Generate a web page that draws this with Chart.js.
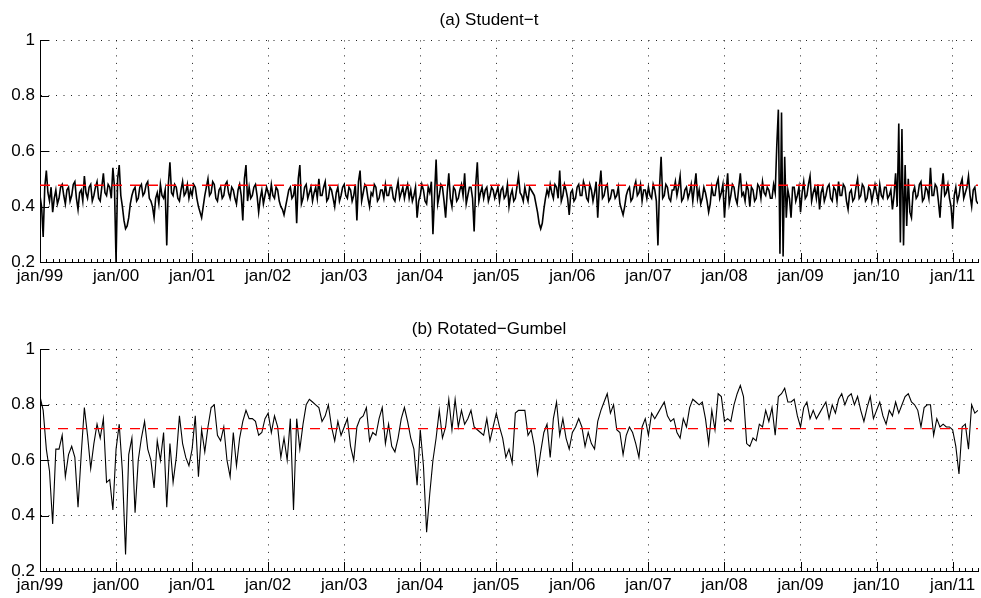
<!DOCTYPE html>
<html>
<head>
<meta charset="utf-8">
<script src="https://cdn.jsdelivr.net/npm/chart.js@4.4.1/dist/chart.umd.min.js"></script>
<style>
  body { margin: 0; background: #fff; }
  .panel { position: absolute; left: 0; width: 981px; }
  #panelA { top: 0; height: 290px; }
  #panelB { top: 309px; height: 289px; }
</style>
</head>
<body>
<div class="panel" id="panelA"><canvas id="chartA" width="981" height="290"></canvas></div>
<div class="panel" id="panelB"><canvas id="chartB" width="981" height="289"></canvas></div>
<script>
// both series start jan/99; Student-t is sampled twice as often as Rotated-Gumbel
const startYear = 1999;
const tPerYear = 48;
const gPerYear = 24;

const yearTicks = [1999, 2000, 2001, 2002, 2003, 2004, 2005, 2006, 2007, 2008, 2009, 2010, 2011];
const yearLabels = ['jan/99', 'jan/00', 'jan/01', 'jan/02', 'jan/03', 'jan/04', 'jan/05',
                    'jan/06', 'jan/07', 'jan/08', 'jan/09', 'jan/10', 'jan/11'];
const yTicks = [0.2, 0.4, 0.6, 0.8, 1];

const studentT = [
  // 1999
  0.44,0.40,0.29,0.47,0.53,0.45,0.42,0.47,0.38,0.43,0.46,0.41,0.43,0.47,0.48,0.44,0.41,0.46,0.47,0.42,0.44,0.48,0.49,0.43,
  0.39,0.45,0.46,0.42,0.51,0.45,0.43,0.47,0.48,0.42,0.44,0.47,0.49,0.43,0.42,0.47,0.52,0.45,0.44,0.48,0.47,0.43,0.54,0.47,
  // 2000
  0.20,0.50,0.55,0.44,0.40,0.35,0.32,0.33,0.36,0.41,0.44,0.46,0.47,0.42,0.43,0.47,0.48,0.44,0.45,0.48,0.49,0.43,0.42,0.40,
  0.36,0.43,0.45,0.41,0.48,0.44,0.43,0.46,0.26,0.48,0.56,0.45,0.44,0.48,0.47,0.43,0.42,0.46,0.49,0.44,0.45,0.48,0.43,0.46,
  // 2001
  0.44,0.48,0.47,0.43,0.40,0.38,0.36,0.40,0.44,0.47,0.50,0.44,0.45,0.49,0.48,0.43,0.42,0.46,0.47,0.43,0.44,0.48,0.49,0.45,
  0.43,0.47,0.46,0.43,0.41,0.46,0.48,0.44,0.35,0.50,0.55,0.42,0.47,0.43,0.44,0.47,0.48,0.44,0.38,0.43,0.46,0.41,0.44,0.47,
  // 2002
  0.45,0.43,0.48,0.44,0.43,0.47,0.46,0.42,0.40,0.39,0.37,0.40,0.43,0.46,0.47,0.43,0.44,0.48,0.34,0.50,0.55,0.41,0.43,0.47,
  0.48,0.43,0.45,0.47,0.42,0.45,0.47,0.43,0.50,0.44,0.44,0.47,0.49,0.42,0.43,0.47,0.46,0.43,0.40,0.45,0.47,0.42,0.44,0.47,
  // 2003
  0.48,0.44,0.43,0.47,0.46,0.42,0.44,0.48,0.35,0.49,0.53,0.42,0.45,0.48,0.47,0.43,0.40,0.45,0.44,0.48,0.47,0.42,0.43,0.46,
  0.46,0.43,0.48,0.44,0.44,0.47,0.47,0.43,0.42,0.46,0.49,0.43,0.45,0.47,0.43,0.46,0.48,0.43,0.46,0.42,0.44,0.47,0.36,0.42,
  // 2004
  0.44,0.48,0.46,0.42,0.41,0.47,0.45,0.49,0.30,0.44,0.57,0.41,0.44,0.48,0.47,0.42,0.36,0.45,0.52,0.43,0.40,0.47,0.46,0.42,
  0.43,0.46,0.48,0.44,0.52,0.41,0.44,0.47,0.47,0.43,0.31,0.48,0.56,0.42,0.45,0.47,0.43,0.46,0.47,0.42,0.44,0.47,0.46,0.43,
  // 2005
  0.45,0.47,0.42,0.46,0.47,0.43,0.44,0.48,0.40,0.44,0.46,0.42,0.43,0.47,0.51,0.45,0.44,0.42,0.47,0.44,0.42,0.47,0.46,0.45,
  0.44,0.41,0.38,0.34,0.32,0.34,0.39,0.43,0.46,0.44,0.48,0.45,0.43,0.48,0.47,0.43,0.53,0.42,0.44,0.48,0.46,0.43,0.37,0.45,
  // 2006
  0.46,0.42,0.43,0.47,0.48,0.44,0.44,0.49,0.47,0.43,0.42,0.48,0.46,0.42,0.45,0.49,0.36,0.47,0.53,0.43,0.44,0.47,0.48,0.42,
  0.43,0.46,0.46,0.43,0.44,0.47,0.41,0.39,0.37,0.40,0.44,0.46,0.47,0.42,0.43,0.47,0.49,0.44,0.45,0.48,0.42,0.46,0.46,0.43,
  // 2007
  0.47,0.44,0.43,0.48,0.46,0.42,0.26,0.47,0.58,0.43,0.44,0.48,0.47,0.43,0.42,0.46,0.46,0.49,0.44,0.47,0.51,0.42,0.43,0.46,
  0.47,0.43,0.45,0.48,0.42,0.47,0.52,0.43,0.46,0.41,0.43,0.47,0.45,0.42,0.38,0.41,0.47,0.44,0.44,0.48,0.50,0.43,0.45,0.48,
  // 2008
  0.36,0.45,0.52,0.41,0.44,0.48,0.47,0.43,0.41,0.47,0.52,0.44,0.45,0.42,0.48,0.46,0.40,0.47,0.46,0.42,0.43,0.48,0.47,0.43,
  0.49,0.45,0.44,0.47,0.46,0.43,0.43,0.48,0.45,0.62,0.75,0.23,0.74,0.22,0.58,0.36,0.46,0.43,0.36,0.47,0.47,0.42,0.44,0.47,
  // 2009
  0.38,0.45,0.49,0.43,0.44,0.48,0.51,0.42,0.45,0.47,0.43,0.48,0.39,0.45,0.47,0.42,0.44,0.47,0.48,0.43,0.42,0.47,0.46,0.42,
  0.49,0.44,0.44,0.48,0.47,0.42,0.39,0.45,0.46,0.42,0.43,0.47,0.50,0.43,0.44,0.48,0.47,0.42,0.43,0.47,0.46,0.42,0.45,0.48,
  // 2010
  0.45,0.42,0.48,0.44,0.43,0.47,0.47,0.43,0.44,0.46,0.39,0.44,0.52,0.40,0.70,0.27,0.68,0.26,0.55,0.33,0.50,0.38,0.36,0.45,
  0.47,0.43,0.44,0.48,0.49,0.42,0.43,0.47,0.46,0.43,0.54,0.44,0.44,0.48,0.47,0.42,0.36,0.46,0.52,0.44,0.45,0.48,0.43,0.40,
  // 2011
  0.32,0.44,0.47,0.42,0.44,0.48,0.50,0.43,0.45,0.47,0.51,0.44,0.40,0.46,0.47,0.42,0.41
];

const rotatedGumbel = [
  0.83,0.78,0.64,0.56,0.37,0.64,0.64,0.69,0.54,0.62,0.65,0.61,0.43,0.62,0.79,0.69,0.57,0.66,0.73,0.68,0.75,0.52,0.53,0.42, // 1999
  0.64,0.73,0.56,0.26,0.62,0.68,0.41,0.60,0.68,0.74,0.64,0.60,0.50,0.67,0.60,0.70,0.43,0.66,0.52,0.61,0.76,0.66,0.61,0.58, // 2000
  0.64,0.76,0.54,0.71,0.63,0.72,0.79,0.80,0.69,0.67,0.72,0.60,0.54,0.70,0.58,0.68,0.74,0.78,0.75,0.75,0.74,0.69,0.70,0.75, // 2001
  0.77,0.70,0.76,0.72,0.61,0.68,0.60,0.75,0.42,0.75,0.64,0.73,0.80,0.82,0.81,0.80,0.79,0.74,0.76,0.80,0.72,0.67,0.74,0.69, // 2002
  0.72,0.75,0.65,0.60,0.72,0.75,0.76,0.79,0.67,0.70,0.69,0.75,0.79,0.66,0.73,0.65,0.63,0.68,0.75,0.79,0.74,0.68,0.64,0.51, // 2003
  0.71,0.58,0.34,0.48,0.60,0.68,0.78,0.68,0.72,0.82,0.71,0.82,0.72,0.78,0.73,0.75,0.78,0.72,0.71,0.70,0.69,0.75,0.67,0.72, // 2004
  0.77,0.72,0.68,0.61,0.64,0.59,0.77,0.78,0.78,0.78,0.69,0.71,0.65,0.55,0.63,0.70,0.73,0.61,0.75,0.81,0.69,0.75,0.68,0.64, // 2005
  0.70,0.72,0.75,0.72,0.65,0.70,0.66,0.64,0.74,0.78,0.81,0.84,0.77,0.80,0.71,0.70,0.62,0.69,0.72,0.70,0.66,0.61,0.72,0.75, // 2006
  0.69,0.77,0.75,0.77,0.79,0.81,0.76,0.74,0.75,0.70,0.68,0.75,0.72,0.79,0.82,0.81,0.80,0.81,0.75,0.66,0.78,0.71,0.84,0.83, // 2007
  0.74,0.75,0.74,0.80,0.84,0.87,0.83,0.66,0.65,0.68,0.67,0.73,0.72,0.78,0.74,0.79,0.69,0.83,0.84,0.86,0.81,0.81,0.82,0.76, // 2008
  0.72,0.79,0.81,0.75,0.78,0.75,0.77,0.79,0.81,0.75,0.80,0.77,0.82,0.84,0.80,0.83,0.84,0.80,0.83,0.78,0.74,0.79,0.83,0.75, // 2009
  0.78,0.81,0.76,0.73,0.78,0.76,0.81,0.77,0.80,0.83,0.84,0.81,0.80,0.78,0.72,0.79,0.80,0.80,0.69,0.75,0.72,0.73,0.72,0.72, // 2010
  0.71,0.65,0.55,0.72,0.73,0.64,0.80,0.77,0.78                                                                          // 2011
];

// unconditional (constant) levels, red dashed lines
const meanStudentT = 0.477;
const meanGumbel = 0.714;

const FONT = "'Liberation Sans', Arial, Helvetica, sans-serif";

function toPoints(values, perYear) {
    return values.map((v, i) => ({ x: startYear + i / perYear, y: v }));
}

// MATLAB style: ticks drawn inside the axes, monthly minor ticks on x
const innerTicks = {
    id: 'innerTicks',
    afterDatasetsDraw(chart) {
        const { ctx, chartArea, scales } = chart;
        const xs = scales.x, ys = scales.y;
        ctx.save();
        ctx.strokeStyle = '#000';
        ctx.lineWidth = 1;
        ctx.beginPath();
        for (let m = 0; startYear + m / 12 <= xs.max + 1e-9; m++) {
            const px = Math.round(xs.getPixelForValue(startYear + m / 12)) + 0.5;
            const len = m % 12 === 0 ? 9 : 3;
            ctx.moveTo(px, chartArea.bottom);
            ctx.lineTo(px, chartArea.bottom - len);
        }
        yTicks.forEach(v => {
            const py = Math.round(ys.getPixelForValue(v)) + 0.5;
            ctx.moveTo(chartArea.left, py);
            ctx.lineTo(chartArea.left + 9, py);
        });
        ctx.stroke();
        ctx.restore();
    }
};

function makeChart(canvasId, title, values, perYear, mean, axisHeight, lineWidth) {
    const pts = toPoints(values, perYear);
    const xMax = pts[pts.length - 1].x;
    return new Chart(document.getElementById(canvasId), {
        type: 'line',
        data: {
            datasets: [
                {
                    label: 'mean',
                    data: [{ x: startYear, y: mean }, { x: xMax, y: mean }],
                    borderColor: '#ff0000',
                    borderWidth: 1.3,
                    borderDash: [10, 8],
                    pointRadius: 0
                },
                {
                    label: title,
                    data: pts,
                    borderColor: '#000',
                    borderWidth: lineWidth,
                    pointRadius: 0,
                    tension: 0
                }
            ]
        },
        options: {
            responsive: false,
            animation: false,
            devicePixelRatio: 1,
            layout: { padding: { left: 0, right: 3, top: 0, bottom: 0 } },
            plugins: {
                legend: { display: false },
                tooltip: { enabled: false },
                title: {
                    display: true,
                    text: title,
                    color: '#000',
                    font: { family: FONT, size: 17, weight: 'normal' },
                    padding: { top: 10, bottom: 10 }
                }
            },
            scales: {
                x: {
                    type: 'linear',
                    min: startYear,
                    max: xMax,
                    afterFit: (scale) => { scale.height = axisHeight; },
                    afterBuildTicks: (scale) => { scale.ticks = yearTicks.map(v => ({ value: v })); },
                    ticks: {
                        autoSkip: false,
                        maxRotation: 0,
                        padding: 4,
                        color: '#000',
                        font: { family: FONT, size: 17 },
                        callback: (v) => yearLabels[yearTicks.indexOf(v)]
                    },
                    grid: { color: '#222', lineWidth: 1, drawTicks: false },
                    border: { display: true, color: '#000', width: 1, dash: [1, 6.5] }
                },
                y: {
                    min: 0.2,
                    max: 1,
                    afterFit: (scale) => { scale.width = 40; },
                    afterBuildTicks: (scale) => { scale.ticks = yTicks.map(v => ({ value: v })); },
                    ticks: {
                        padding: 5,
                        color: '#000',
                        font: { family: FONT, size: 17 },
                        callback: (v) => String(v)
                    },
                    grid: { color: '#222', lineWidth: 1, drawTicks: false },
                    border: { display: true, color: '#000', width: 1, dash: [1, 6.5] }
                }
            }
        },
        plugins: [innerTicks]
    });
}

makeChart('chartA', '(a) Student\u2212t', studentT, tPerYear, meanStudentT, 28, 1.6);
makeChart('chartB', '(b) Rotated\u2212Gumbel', rotatedGumbel, gPerYear, meanGumbel, 27, 1.1);
</script>
</body>
</html>
